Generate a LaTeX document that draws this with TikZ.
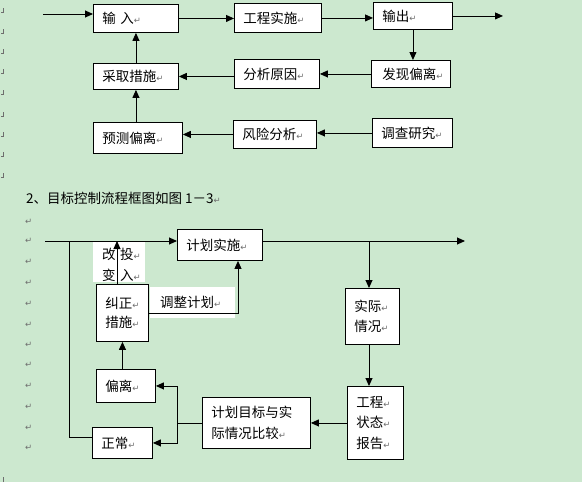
\documentclass[tikz,border=0pt]{standalone}
\usepackage{fontspec}
\setmainfont{Noto Sans CJK SC}
\newfontfamily\retfont{DejaVu Sans}
\usetikzlibrary{arrows.meta}
\definecolor{bg}{RGB}{204,232,207}
\definecolor{retgray}{RGB}{110,110,110}
\newcommand\ret{{\retfont\fontsize{8.5}{8.5}\selectfont\textcolor{retgray}{↵}}}
\begin{document}
\begin{tikzpicture}[x=1pt,y=-1pt,
  box/.style={draw, fill=white, line width=0.9pt, anchor=north west, inner xsep=9pt, inner ysep=0pt, align=left, font=\fontsize{13.5}{20.5}\selectfont},
  arr/.style={-{Triangle[length=8pt,width=7pt]}, line width=0.9pt},
  ln/.style={line width=0.9pt},
  lbl/.style={inner sep=0pt, anchor=west, font=\fontsize{13.5}{20}\selectfont},
  mmark/.style={retgray, line width=0.6pt},
  pmark/.style={inner sep=0pt, anchor=west}]
\fill[bg] (0,0) rectangle (582,482);
\useasboundingbox (0,0) rectangle (582,482);
% margin marks (top)
\foreach \yy in {11,32,52,72,93,115,135,155,176}{
  \draw[mmark] (3.5,\yy-3) -- (3.5,\yy+1.5) -- (0.5,\yy+1.5);
}
% margin marks (bottom)
\foreach \yy in {222,241,262,283,304,325,345,365,386,407,428,448}{
  \node[pmark] at (25,\yy) {\ret};
}
\draw[mmark] (3,477) -- (3,482);

% ---------- top chart ----------
\node[box, text width=67pt, minimum height=28pt] (in) at (93,4) {输 入\ret};
\node[box, text width=69pt, minimum height=29pt] (gc) at (234,3) {工程实施\ret};
\node[box, text width=61pt, minimum height=27pt] (out) at (373,2) {输出\ret};
\node[box, minimum height=27pt, inner xsep=11pt, text width=57pt] (fx) at (371,60) {发现偏离\ret};
\node[box, text width=67pt, minimum height=29pt] (fy) at (234,59) {分析原因\ret};
\node[box, text width=67pt, minimum height=26pt] (cq) at (93,63) {采取措施\ret};
\node[box, text width=71pt, minimum height=31pt] (yc) at (93,122) {预测偏离\ret};
\node[box, text width=65pt, minimum height=28pt] (fxa) at (233,120) {风险分析\ret};
\node[box, text width=62pt, minimum height=29pt] (dc) at (372,118) {调查研究\ret};

\coordinate (st) at (43,14);
\coordinate (en) at (503,15);
\draw[arr] (st) -- (st -| in.west);
\draw[arr] (in.east) -- (in.east -| gc.west);
\draw[arr] (gc.east) -- (gc.east -| out.west);
\draw[arr] (out.east) -- (out.east -| en);
\draw[arr] (out.south) -- (out.south |- fx.north);
\draw[arr] (fx.west) -- (fx.west -| fy.east);
\draw[arr] (fy.west |- cq.east) -- (cq.east);
\draw[arr] (cq.north) -- (cq.north |- in.south);
\draw[arr] (cq.south |- yc.north) -- (cq.south);
\draw[arr] (fxa.west) -- (fxa.west -| yc.east);
\draw[arr] (dc.west) -- (dc.west -| fxa.east);

% ---------- title ----------
\node[lbl] (title) at (26,198) {2、目标控制流程框图如图 1－3\ret};

% ---------- bottom chart ----------
\fill[white] (93,242) rectangle (145,282);
\fill[white] (150,287) rectangle (235,318);

\node[box, text width=67pt, minimum height=31pt] (jh) at (177,229) {计划实施\ret};
\node[box, text width=36pt, minimum height=56pt] (sj) at (345,288) {实际\ret\\情况\ret};
\node[box, text width=38pt, minimum height=73pt] (gz) at (347,386) {工程\ret\\状态\ret\\报告\ret};
\node[box, text width=90pt, minimum height=51pt] (bj) at (202,397) {计划目标与实\\际情况比较\ret};
\node[box, text width=41pt, minimum height=33pt] (pl) at (96,369) {偏离\ret};
\node[box, text width=42pt, minimum height=31pt] (zc) at (92,427) {正常\ret};
\node[box, text width=34pt, minimum height=57pt, font=\fontsize{13.5}{19}\selectfont] (jz) at (96,284) {纠正\ret\\措施\ret};

\node[lbl] (gb1) at (102,254) {改};
\node[lbl] (gb2) at (102,275) {变};
\node[lbl] (tr1) at (120,254) {投\ret};
\node[lbl] (tr2) at (120,275) {入\ret};
\node[lbl] (tzjh) at (160,302) {调整计划\ret};

\coordinate (ms) at (45,241);
\coordinate (me) at (465,241);
\coordinate (bx) at (369,241);
\coordinate (sx) at (177,417);
\coordinate (tz) at (238,313);
\coordinate (lx) at (69,437);
\coordinate (up) at (117,284);

\draw[arr] (ms) -- (ms -| jh.west);
\draw[arr] (jh.east |- me) -- (me);
\draw[arr] (bx) -- (bx |- sj.north);
\draw[arr] (sj.south -| bx) -- (bx |- gz.north);
\draw[arr] (gz.west) -- (gz.west -| bj.east);
\draw[ln] (bj.west) -- (bj.west -| sx);
\draw[arr] (bj.west -| sx) -- (sx |- pl.east) -- (pl.east);
\draw[arr] (bj.west -| sx) -- (sx |- zc.east) -- (zc.east);
\draw[arr] (jz.south |- pl.north) -- (jz.south);
\draw[arr] (up) -- (up |- ms);
\draw[arr] (jz.east |- tz) -- (tz) -- (tz |- jh.south);
\draw[ln] (zc.west |- lx) -- (lx) -- (lx |- ms);
\end{tikzpicture}
\end{document}
